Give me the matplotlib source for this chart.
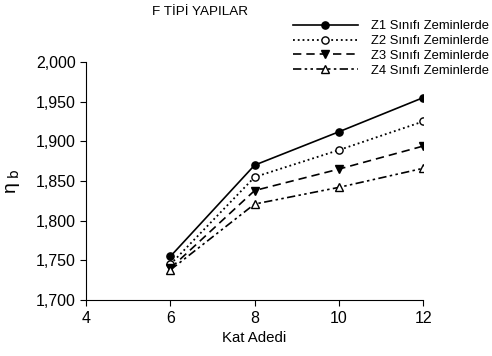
import matplotlib
matplotlib.use("Agg")
import matplotlib.pyplot as plt
from matplotlib.ticker import FuncFormatter

plt.rcParams['font.family'] = ['Liberation Sans', 'DejaVu Sans']

# veriler
kat = [6, 8, 10, 12]
z1 = [1.755, 1.870, 1.912, 1.955]
z2 = [1.745, 1.855, 1.889, 1.925]
z3 = [1.740, 1.838, 1.865, 1.894]
z4 = [1.738, 1.821, 1.842, 1.866]
etiketler = ['Z1 Sınıfı Zeminlerde', 'Z2 Sınıfı Zeminlerde',
             'Z3 Sınıfı Zeminlerde', 'Z4 Sınıfı Zeminlerde']

fig = plt.figure(figsize=(4.92, 3.56), dpi=100)
ax = fig.add_axes([0.175, 0.157, 0.685, 0.669])

ax.plot(kat, z1, '-', color='black', lw=1.2, marker='o', ms=5.2,
        mfc='black', label=etiketler[0])
ax.plot(kat, z2, ':', color='black', lw=1.3, marker='o', ms=5.2,
        mfc='white', label=etiketler[1])
ax.plot(kat, z3, '--', color='black', lw=1.2, marker='v', ms=5.8,
        mfc='black', dashes=(5, 3), label=etiketler[2])
ax.plot(kat, z4, '-.', color='black', lw=1.2, marker='^', ms=5.8,
        mfc='white', dashes=(5, 2, 1.5, 2, 1.5, 2), label=etiketler[3])

ax.set_xlim(4, 12)
ax.set_ylim(1.7, 2.0)
ax.set_xticks([4, 6, 8, 10, 12])
ax.set_yticks([1.70, 1.75, 1.80, 1.85, 1.90, 1.95, 2.00])
ax.yaxis.set_major_formatter(FuncFormatter(lambda v, p: f"{v:.3f}".replace('.', ',')))
ax.spines['top'].set_visible(False)
ax.spines['right'].set_visible(False)
ax.tick_params(direction='out', length=4, labelsize=11.5)

ax.set_xlabel('Kat Adedi', fontsize=10.8)
ax.set_ylabel(r'η$_{\ \mathrm{b}}$', fontsize=14, labelpad=10)

fig.text(0.407, 0.966, 'F TİPİ YAPILAR', fontsize=9.7, va='center', ha='center')

fig.legend(loc='upper left', bbox_to_anchor=(0.595, 0.943),
           bbox_transform=fig.transFigure, frameon=False, borderpad=0,
           fontsize=9.4, handlelength=5.0, handletextpad=1.0,
           labelspacing=0.2, borderaxespad=0)

fig.savefig('out.png', dpi=100)
